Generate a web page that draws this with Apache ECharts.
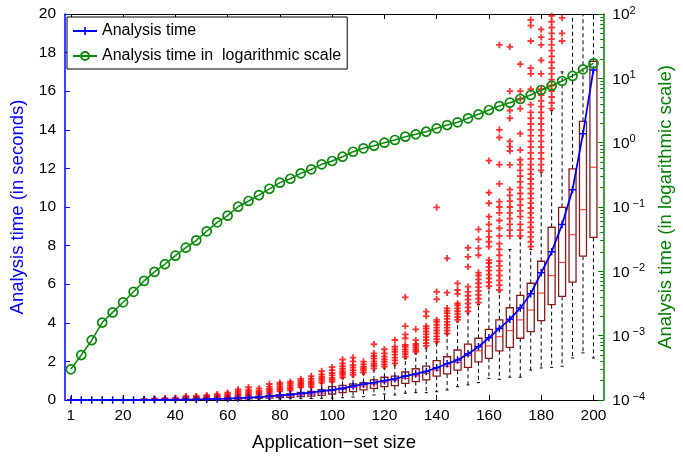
<!DOCTYPE html>
<html>
<head>
<meta charset="utf-8">
<script src="https://cdn.jsdelivr.net/npm/echarts@6/dist/echarts.min.js"></script>
<style>
  html, body { margin: 0; padding: 0; background: #fff; }
  #chart { width: 683px; height: 460px; }
</style>
</head>
<body>
<div id="chart"></div>
<script>
// application-set sizes, one box per size
const sizes = ['1','4','8','12','16','20','24','28','32','36','40','44','48','52','56','60','64','68','72','76','80','84','88','92','96','100','104','108','112','116','120','124','128','132','136','140','144','148','152','156','160','164','168','172','176','180','184','188','192','196','200']
const xTickIdx = [0, 5, 10, 15, 20, 25, 30, 35, 40, 45, 50]

// mean analysis time (s), shown linear (blue) and log (green)
const meanTime = [0.0003,0.0005,0.00085,0.0016,0.0023,0.0033,0.0048,0.0071,0.0098,0.0129,0.0175,0.0233,0.0303,0.0419,0.0578,0.0733,0.101,0.124,0.153,0.192,0.239,0.275,0.334,0.385,0.461,0.519,0.605,0.723,0.817,0.897,0.998,1.10,1.24,1.35,1.48,1.67,1.88,2.07,2.39,2.76,3.22,3.71,4.18,4.77,5.51,6.59,7.68,9.09,10.9,13.8,17.1]

// boxplot statistics
const whiskerLow = [0.0001,0.0002,0.0003,0.0005,0.0007,0.001,0.0015,0.002,0.003,0.004,0.005,0.005,0.007,0.01,0.013,0.017,0.023,0.028,0.035,0.043,0.05,0.06,0.07,0.08,0.09,0.1,0.12,0.15,0.17,0.26,0.31,0.26,0.35,0.38,0.38,0.43,0.52,0.69,0.78,0.9,1.12,1.07,1.18,1.18,1.55,1.66,1.69,1.75,2.18,2.44,2.18]
const quart1 = [0.0002,0.0003,0.0005,0.001,0.0014,0.002,0.003,0.0043,0.006,0.008,0.011,0.012,0.016,0.022,0.03,0.038,0.052,0.064,0.08,0.1,0.12,0.14,0.17,0.2,0.24,0.31,0.38,0.43,0.52,0.6,0.69,0.74,0.86,0.95,1.04,1.24,1.35,1.55,1.69,1.98,2.16,2.55,2.73,3.2,3.54,4.11,4.94,5.37,6.11,7.45,8.43]
const median = [0.0003,0.0004,0.0007,0.0014,0.002,0.003,0.0042,0.0062,0.0085,0.011,0.015,0.018,0.024,0.033,0.045,0.057,0.078,0.096,0.12,0.15,0.18,0.21,0.26,0.3,0.36,0.48,0.55,0.65,0.72,0.82,0.92,1.0,1.12,1.25,1.38,1.55,1.75,1.95,2.3,2.55,2.8,3.28,3.59,4.15,4.66,5.54,6.44,7.13,8.56,9.86,12.06]
const quart3 = [0.0004,0.0006,0.001,0.002,0.0029,0.0042,0.006,0.009,0.0125,0.016,0.022,0.028,0.036,0.05,0.068,0.086,0.12,0.145,0.18,0.23,0.28,0.33,0.39,0.45,0.54,0.69,0.76,0.83,0.9,1.04,1.18,1.24,1.45,1.62,1.76,2.04,2.24,2.59,2.89,3.2,3.66,4.15,4.78,5.42,6.05,7.19,8.95,9.98,11.98,14.44,17.55]
const whiskerHigh = [0.0006,0.001,0.0017,0.0035,0.005,0.007,0.01,0.015,0.021,0.028,0.038,0.045,0.06,0.08,0.1,0.13,0.17,0.2,0.25,0.3,0.42,0.46,0.62,0.64,0.85,0.92,1.12,1.2,1.35,1.55,1.65,1.8,2.15,2.4,2.7,2.95,3.4,4.05,4.5,4.95,5.8,5.6,7.8,8.4,7.8,11.8,15.0,17.0,22,24,28]

// outliers per box
const outliers = [
  [], [], [], [], [], [], [],
  [0.03, 0.04],
  [0.04, 0.05, 0.07],
  [0.05, 0.07, 0.09],
  [0.06, 0.08, 0.11],
  [0.06, 0.09, 0.12, 0.16, 0.2],
  [0.07, 0.1, 0.13, 0.17, 0.2],
  [0.09, 0.12, 0.15, 0.2, 0.25],
  [0.11, 0.14, 0.18, 0.23, 0.3],
  [0.14, 0.18, 0.23, 0.3, 0.38],
  [0.18, 0.24, 0.3, 0.38, 0.46, 0.55],
  [0.22, 0.28, 0.35, 0.43, 0.52, 0.66],
  [0.27, 0.33, 0.4, 0.48, 0.6],
  [0.32, 0.4, 0.48, 0.57, 0.68, 0.83],
  [0.45, 0.53, 0.62, 0.72, 0.82, 0.9],
  [0.5, 0.58, 0.67, 0.77, 0.87, 0.95],
  [0.67, 0.75, 0.83, 0.92, 1.0, 1.09],
  [0.68, 0.78, 0.88, 0.98, 1.1, 1.24],
  [0.9, 1.0, 1.1, 1.2, 1.32, 1.5],
  [0.95, 1.05, 1.15, 1.28, 1.4, 1.55, 1.7],
  [1.18, 1.3, 1.4, 1.5, 1.62, 1.75, 1.9, 2.1],
  [1.3, 1.42, 1.55, 1.68, 1.8, 2.0, 2.2],
  [1.42, 1.52, 1.62, 1.72, 1.85, 1.99],
  [1.64, 1.76, 1.88, 2.0, 2.15, 2.28, 2.42, 2.89],
  [1.73, 1.85, 1.98, 2.1, 2.25, 2.42, 2.63],
  [1.9, 2.05, 2.2, 2.35, 2.5, 2.62, 2.76, 3.11],
  [2.24, 2.38, 2.5, 2.62, 2.75, 2.85, 3.2, 3.4, 3.83, 5.32],
  [2.5, 2.6, 2.7, 2.8, 2.9, 3.1, 3.66],
  [2.8, 2.95, 3.1, 3.25, 3.4, 3.55, 3.7, 3.82, 4.35, 4.58],
  [3.02, 3.15, 3.3, 3.45, 3.6, 3.75, 3.9, 4.05, 4.15, 5.22, 5.61, 9.98],
  [3.45, 3.6, 3.75, 3.9, 4.05, 4.2, 4.35, 4.5, 4.62, 4.75, 5.56, 7.34],
  [4.15, 4.3, 4.45, 4.6, 4.75, 4.9, 5.0, 5.5, 5.7, 6.04],
  [4.6, 4.8, 5.0, 5.2, 5.4, 5.6, 5.87, 6.9, 7.42, 7.89],
  [5.05, 5.25, 5.45, 5.65, 5.85, 6.05, 6.25, 6.45, 6.6, 7.5, 7.86, 8.32, 8.84],
  [5.9, 6.1, 6.3, 6.5, 6.7, 6.9, 7.1, 7.25, 7.95, 8.2, 8.45, 8.75, 9.1, 9.5, 10.2, 10.74, 12.4],
  [5.7, 5.95, 6.2, 6.45, 6.7, 6.95, 7.2, 7.5, 7.8, 8.1, 8.5, 8.9, 9.3, 9.7, 10.0, 10.28, 11.2, 12.2, 13.6, 14.0, 18.4],
  [8.5, 8.8, 9.1, 9.4, 9.7, 10.0, 10.3, 10.6, 10.9, 12.18, 12.9, 13.13, 13.4, 14.6, 15.0, 16.0, 18.3],
  [8.5, 8.8, 9.1, 9.5, 9.8, 10.1, 10.4, 10.7, 11.0, 11.3, 11.6, 11.9, 12.2, 12.45, 12.95, 13.8, 15.1, 15.6, 16.0, 17.4],
  [7.95, 8.2, 8.45, 8.7, 8.95, 9.2, 9.45, 9.7, 9.95, 10.2, 10.45, 10.7, 10.95, 11.2, 11.45, 11.7, 11.95, 12.2, 12.5, 12.8, 13.1, 13.4, 13.7, 14.0, 14.3, 14.6, 14.9, 15.3, 16.1, 16.9, 17.2, 18.6, 19.4, 19.7],
  [11.9, 12.2, 12.5, 12.8, 13.1, 13.4, 13.7, 14.0, 14.3, 14.6, 14.9, 15.2, 15.5, 15.8, 16.1, 16.9, 17.6, 18.4, 18.8, 19.2],
  [15.1, 15.4, 15.7, 16.0, 16.3, 16.6, 16.9, 17.2, 17.5, 17.8, 18.1, 18.4, 18.7, 19.0, 19.3, 19.6, 19.9],
  [18.6, 19.0, 19.8],
  [], [], []
]

const FONT = '"Liberation Sans", Arial, sans-serif'
const BLUE = '#0000ff'
const GREEN = '#008000'
const PLUS = 'path://M0,3.6H10V6.4H0ZM3.6,0H6.4V10H3.6Z'
const PLUS_THIN = 'path://M0,4H10V6H0ZM4,0H6V10H4Z'

const boxRows = sizes.map((s, i) => [i, whiskerLow[i], quart1[i], median[i], quart3[i], whiskerHigh[i]])
const outlierPts = []
outliers.forEach((vals, i) => vals.forEach(v => outlierPts.push([i, v])))
const meanPts = meanTime.map((v, i) => [i, v])

// minor ticks of the log axis, in log10 units
const minorLog = []
for (let k = -4; k < 2; k++) for (let m = 2; m < 10; m++) minorLog.push(Math.log10(m * Math.pow(10, k)))

function renderBox(params, api) {
  const x = api.value(0)
  const lo = api.coord([x, api.value(1)])
  const q1 = api.coord([x, api.value(2)])
  const md = api.coord([x, api.value(3)])
  const q3 = api.coord([x, api.value(4)])
  const hi = api.coord([x, api.value(5)])
  const cx = lo[0], hw = 3.5, cw = 1.5
  const dash = { stroke: '#000', lineWidth: 1, lineDash: [4, 3] }
  return {
    type: 'group',
    children: [
      { type: 'line', shape: { x1: cx, y1: q3[1], x2: cx, y2: hi[1] }, style: dash },
      { type: 'line', shape: { x1: cx, y1: q1[1], x2: cx, y2: lo[1] }, style: dash },
      { type: 'line', shape: { x1: cx - cw, y1: hi[1], x2: cx + cw, y2: hi[1] }, style: { stroke: '#000', lineWidth: 1 } },
      { type: 'line', shape: { x1: cx - cw, y1: lo[1], x2: cx + cw, y2: lo[1] }, style: { stroke: '#000', lineWidth: 1 } },
      { type: 'rect', shape: { x: cx - hw, y: q3[1], width: hw * 2, height: q1[1] - q3[1] }, style: { fill: 'none', stroke: '#8b1a1a', lineWidth: 1.3 } },
      { type: 'line', shape: { x1: cx - hw, y1: md[1], x2: cx + hw, y2: md[1] }, style: { stroke: '#ff2020', lineWidth: 1 } }
    ]
  }
}

const chart = echarts.init(document.getElementById('chart'))
const xBase = {
  type: 'value', min: -0.56, max: 50.94,
  splitLine: { show: false },
  axisLine: { onZero: false, lineStyle: { color: '#000', width: 1 } }
}
chart.setOption({
  animation: false,
  backgroundColor: '#fff',
  textStyle: { fontFamily: FONT },
  grid: { left: 63, right: 72, top: 14, bottom: 60 },
  legend: {
    data: ['Analysis time', 'Analysis time in  logarithmic scale'],
    orient: 'vertical', left: 67, top: 17,
    padding: [6, 6, 5, 5],
    itemWidth: 24, itemHeight: 10, itemGap: 9,
    borderColor: '#000', borderWidth: 1, backgroundColor: '#fff',
    textStyle: { fontSize: 16, color: '#000', fontFamily: FONT }
  },
  xAxis: [
    Object.assign({}, xBase, {
      position: 'bottom',
      name: 'Application\u2212set size', nameLocation: 'middle', nameGap: 33,
      nameTextStyle: { fontSize: 18.5, color: '#000', fontFamily: FONT },
      axisTick: { customValues: xTickIdx, inside: true, length: 5, lineStyle: { color: '#000' } },
      axisLabel: { customValues: xTickIdx, formatter: v => sizes[v], margin: 8, fontSize: 15.5, color: '#000', fontFamily: FONT }
    }),
    Object.assign({}, xBase, {
      position: 'top',
      axisTick: { customValues: xTickIdx, inside: true, length: 5, lineStyle: { color: '#000' } },
      axisLabel: { show: false }
    })
  ],
  yAxis: [
    {
      type: 'value', min: 0, max: 20, interval: 2, position: 'left',
      name: 'Analysis time (in seconds)', nameLocation: 'middle', nameGap: 38,
      nameTextStyle: { fontSize: 18.5, color: BLUE, fontFamily: FONT },
      splitLine: { show: false },
      axisLine: { show: true, onZero: false, lineStyle: { color: BLUE, width: 1.5 } },
      axisTick: { inside: true, length: 5, lineStyle: { color: BLUE } },
      axisLabel: { margin: 9, fontSize: 15.5, color: '#000', fontFamily: FONT }
    },
    {
      type: 'log', logBase: 10, min: 0.0001, max: 100, splitNumber: 6, position: 'right',
      name: 'Analysis time (in logarithmic scale)', nameLocation: 'middle', nameGap: 52,
      nameTextStyle: { fontSize: 18.5, color: GREEN, fontFamily: FONT },
      splitLine: { show: false },
      axisLine: { show: true, onZero: false, lineStyle: { color: GREEN, width: 1.5 } },
      axisTick: { inside: true, length: 5, lineStyle: { color: GREEN } },
      axisLabel: {
        margin: 9,
        formatter: v => {
          const e = Math.round(Math.log10(v))
          return e < 0 ? '{b|10}{s| \u2212' + (-e) + '}' : '{b|10}{s|' + e + '}'
        },
        rich: {
          b: { fontSize: 15.5, color: '#000', fontFamily: FONT, lineHeight: 18, verticalAlign: 'bottom' },
          s: { fontSize: 11, color: '#000', fontFamily: FONT, lineHeight: 12, verticalAlign: 'top' }
        }
      }
    },
    {
      type: 'value', min: -4, max: 2, position: 'right',
      splitLine: { show: false },
      axisLine: { show: false, onZero: false },
      axisTick: { customValues: minorLog, inside: true, length: 3, lineStyle: { color: GREEN } },
      axisLabel: { show: false }
    }
  ],
  series: [
    {
      type: 'custom', name: 'boxes', xAxisIndex: 0, yAxisIndex: 0,
      renderItem: renderBox, clip: true,
      encode: { x: 0, y: [1, 2, 3, 4, 5] },
      data: boxRows, z: 1
    },
    {
      type: 'scatter', name: 'outliers', xAxisIndex: 0, yAxisIndex: 0,
      symbol: PLUS, symbolSize: 6.5, itemStyle: { color: '#ff0000' },
      data: outlierPts, z: 2
    },
    {
      type: 'line', name: 'Analysis time', xAxisIndex: 0, yAxisIndex: 0,
      symbol: PLUS_THIN, symbolSize: 7.5,
      itemStyle: { color: BLUE },
      lineStyle: { color: BLUE, width: 1.8 },
      data: meanPts, z: 3
    },
    {
      type: 'line', name: 'Analysis time in  logarithmic scale', xAxisIndex: 0, yAxisIndex: 1,
      symbol: 'circle', symbolSize: 9,
      itemStyle: { color: 'rgba(0,0,0,0)', borderColor: '#0a8a0a', borderWidth: 1.7 },
      lineStyle: { color: '#0a8a0a', width: 1.5 },
      data: meanPts, z: 4
    }
  ]
})
</script>
</body>
</html>
